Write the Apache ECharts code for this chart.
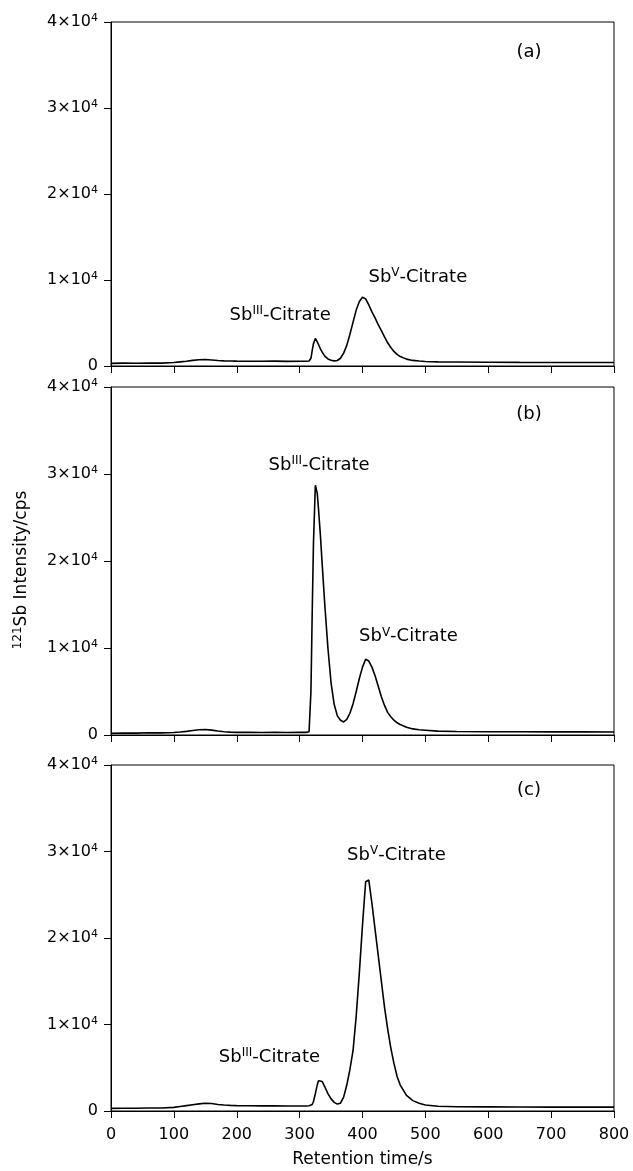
<!DOCTYPE html>
<html>
<head>
<meta charset="utf-8">
<script src="https://cdn.jsdelivr.net/npm/echarts@6/dist/echarts.min.js"></script>
<style>
  html, body { margin: 0; padding: 0; background: #fff; }
  #chart { width: 633px; height: 1171px; }
</style>
</head>
<body>
<div id="chart"></div>
<script>
// retention time (s) and 121Sb intensity (cps)
const times = [0, 20, 40, 60, 80, 100, 110, 120, 130, 140, 150, 160, 170, 180, 190, 200, 220, 240, 260, 280, 300, 310, 315, 318, 320, 322, 325, 328, 330, 333, 336, 340, 345, 350, 355, 360, 365, 370, 375, 380, 385, 390, 395, 400, 405, 410, 415, 420, 425, 430, 435, 440, 445, 450, 455, 460, 470, 480, 490, 500, 520, 550, 600, 650, 700, 750, 800];
const intensityA = [300, 330, 320, 350, 340, 400, 480, 560, 650, 720, 760, 700, 640, 600, 590, 570, 560, 550, 570, 540, 560, 550, 580, 900, 1800, 2600, 3200, 2800, 2500, 2000, 1600, 1150, 820, 660, 600, 640, 900, 1500, 2400, 3700, 5100, 6500, 7500, 8000, 7800, 7100, 6300, 5600, 4800, 4100, 3400, 2700, 2150, 1700, 1350, 1100, 800, 650, 580, 520, 480, 460, 440, 420, 410, 400, 400];
const intensityB = [200, 230, 220, 250, 240, 290, 340, 420, 520, 600, 630, 560, 460, 380, 330, 300, 300, 290, 300, 290, 300, 300, 380, 5000, 14000, 22000, 28700, 27800, 26000, 23000, 19500, 15000, 10000, 6000, 3500, 2200, 1700, 1500, 1800, 2500, 3600, 5000, 6500, 7800, 8700, 8500, 7800, 6800, 5600, 4400, 3400, 2600, 2100, 1700, 1400, 1200, 900, 700, 600, 550, 450, 400, 380, 370, 360, 360, 350];
const intensityC = [300, 310, 320, 340, 350, 420, 520, 620, 720, 820, 900, 860, 760, 700, 650, 620, 600, 590, 600, 580, 580, 580, 600, 650, 750, 1100, 2000, 3000, 3500, 3700, 3400, 2800, 2000, 1400, 1000, 800, 900, 1600, 3000, 4800, 7000, 11000, 16000, 21500, 26500, 26700, 24000, 21000, 18000, 15000, 12000, 9500, 7300, 5500, 4000, 3000, 1800, 1200, 900, 700, 550, 500, 480, 460, 450, 450, 450];
const panelNames = ['(a)', '(b)', '(c)'];
const xTicks = [0, 100, 200, 300, 400, 500, 600, 700, 800];
const yTicks = [0, 10000, 20000, 30000, 40000];

const series = [intensityA, intensityB, intensityC];
const font = 'DejaVu Sans';
const tickRich = {
  n: { fontSize: 16, lineHeight: 18, color: '#000', fontFamily: font },
  s: { fontSize: 11, lineHeight: 7, verticalAlign: 'top', color: '#000', fontFamily: font }
};
const noteRich = {
  n: { fontSize: 18, lineHeight: 20, color: '#000', fontFamily: font },
  s: { fontSize: 12, lineHeight: 8, verticalAlign: 'top', color: '#000', fontFamily: font }
};

// label positions in data coordinates
const notes = [
  [['III', 269, 5900], ['V', 488, 10350]],
  [['III', 331, 31000], ['V', 473, 11300]],
  [['III', 252, 6200], ['V', 454, 29600]]
];

const grids = [
  { left: 111, width: 503, top: 22, height: 344 },
  { left: 111, width: 503, top: 387, height: 348 },
  { left: 111, width: 503, top: 765, height: 346 }
];
const panelLabelDy = [30, 27, 25];

const myChart = echarts.init(document.getElementById('chart'));

const option = {
  animation: false,
  textStyle: { fontFamily: font },
  grid: grids.map(g => Object.assign({ show: true, borderColor: '#000', borderWidth: 1 }, g)),
  xAxis: grids.map((g, i) => ({
    gridIndex: i,
    type: 'value',
    min: xTicks[0],
    max: xTicks[xTicks.length - 1],
    interval: 100,
    axisLine: { lineStyle: { color: '#000', width: 1 } },
    axisTick: { length: 7, lineStyle: { color: '#000' } },
    axisLabel: { show: i === 2, fontSize: 16, color: '#000', margin: 16 },
    splitLine: { show: false },
    name: i === 2 ? 'Retention time/s' : '',
    nameLocation: 'middle',
    nameGap: 40,
    nameTextStyle: { fontSize: 17, color: '#000' }
  })),
  yAxis: grids.map((g, i) => ({
    gridIndex: i,
    type: 'value',
    min: yTicks[0],
    max: yTicks[yTicks.length - 1],
    interval: 10000,
    axisLine: { show: true, lineStyle: { color: '#000', width: 1 } },
    axisTick: { show: true, length: 7, lineStyle: { color: '#000' } },
    axisLabel: {
      margin: 13,
      formatter: v => v === 0 ? '{n|0}' : '{n|' + (v / 10000) + '×10}{s|4}',
      rich: tickRich
    },
    splitLine: { show: false }
  })),
  series: series.map((vals, i) => ({
    type: 'line',
    xAxisIndex: i,
    yAxisIndex: i,
    showSymbol: false,
    silent: true,
    lineStyle: { color: '#000', width: 1.6 },
    data: times.map((t, k) => [t, vals[k]]),
    markPoint: {
      symbol: 'circle',
      symbolSize: 0,
      silent: true,
      label: {
        show: true,
        position: 'inside',
        formatter: p => '{n|Sb}{s|' + p.name + '}{n|-Citrate}',
        rich: noteRich
      },
      data: notes[i].map(n => ({ name: n[0], coord: [n[1], n[2]] }))
    }
  })),
  graphic: [
    {
      type: 'text',
      x: 22,
      y: 570,
      rotation: Math.PI / 2,
      style: {
        text: '{s|121}{n|Sb Intensity/cps}',
        rich: {
          n: { fontSize: 17, lineHeight: 20, fill: '#000', fontFamily: font },
          s: { fontSize: 12, lineHeight: 8, verticalAlign: 'top', fill: '#000', fontFamily: font }
        },
        align: 'center',
        verticalAlign: 'middle'
      }
    }
  ].concat(grids.map((g, i) => ({
    type: 'text',
    x: 529,
    y: g.top + panelLabelDy[i],
    style: {
      text: panelNames[i],
      font: '18px ' + font,
      fill: '#000',
      align: 'center',
      verticalAlign: 'middle'
    }
  })))
};

myChart.setOption(option);
</script>
</body>
</html>
